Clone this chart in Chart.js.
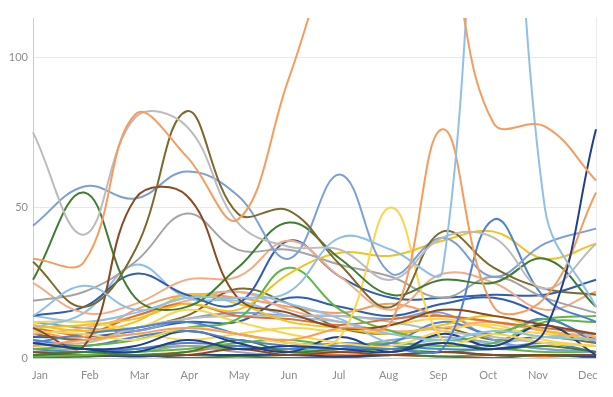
<!DOCTYPE html>
<html>
<head>
<meta charset="utf-8">
<script src="https://cdn.jsdelivr.net/npm/chart.js@4/dist/chart.umd.min.js"></script>
<style>
  html, body { margin: 0; padding: 0; background: #fff; }
  #chart { display: block; }
</style>
</head>
<body>
<canvas id="chart" width="613" height="397"></canvas>
<script>
/* Monthly counts, one line per item — many overlapping smooth lines. */

const MONTHS = ['Jan', 'Feb', 'Mar', 'Apr', 'May', 'Jun', 'Jul', 'Aug', 'Sep', 'Oct', 'Nov', 'Dec'];
const Y_TICKS = [0, 50, 100];

// the lines that stand out
const orangeBig   = [33, 32, 81, 67, 46, 93, 140, 160, 140, 78, 77, 59];
const grayLight   = [75, 41, 80, 77, 45, 37, 36, 26, 40, 40, 23, 38];
const grayMid     = [19, 22, 32, 48, 36, 36, 31, 27, 20, 27, 20, 15];
const olive       = [32, 17, 36, 82, 48, 49, 31, 17, 42, 30, 23, 21];
const brown       = [10, 4, 53, 54, 20, 15, 10, 11, 16, 14, 11, 8];
const darkGreen   = [26, 55, 20, 17, 30, 45, 33, 21, 26, 25, 33, 17];
const cornflower  = [44, 57, 53, 62, 54, 33, 61, 28, 40, 27, 38, 43];
const blueOct     = [5, 8, 10, 12, 8, 5, 4, 3, 3, 46, 20, 12];
const skyJump     = [14, 24, 16, 20, 20, 22, 40, 36, 29, 260, 50, 17];
const skyMar      = [10, 15, 31, 20, 19, 14, 12, 8, 6, 9, 7, 6];
const royal       = [14, 17, 28, 21, 18, 39, 27, 20, 20, 21, 21, 26];
const navyDec     = [5, 3, 2, 6, 3, 4, 3, 2, 5, 3, 9, 76];
const yellowAug   = [9, 8, 6, 10, 8, 5, 7, 50, 6, 8, 5, 4];
const goldRise    = [10, 11, 13, 18, 16, 28, 35, 34, 39, 42, 33, 38];
const orangeSep   = [4, 6, 8, 10, 8, 6, 10, 12, 76, 17, 20, 55];
const salmon      = [25, 15, 18, 26, 27, 39, 27, 16, 28, 25, 16, 22];
const greenJun    = [3, 4, 6, 10, 13, 30, 16, 9, 6, 8, 13, 14];

// the tangle near the floor
const yellowLow   = [12, 12, 10, 16, 12, 8, 5, 4, 9, 11, 6, 4];
const goldLow     = [11, 9, 12, 21, 18, 12, 10, 8, 11, 14, 9, 6];
const blueLow     = [6, 4, 7, 9, 6, 4, 3, 5, 12, 8, 13, 5];
const navyLow     = [5, 3, 4, 9, 5, 2, 7, 2, 8, 4, 11, 1];
const rustLow     = [10, 8, 14, 18, 14, 13, 11, 13, 14, 12, 10, 8];
const silverLow   = [6, 5, 10, 13, 14, 14, 14, 12, 9, 7, 5, 4];
const peachLow    = [8, 10, 14, 19, 22, 16, 12, 9, 10, 12, 9, 7];
const forestLow   = [1, 2, 1, 2, 6, 2, 3, 3, 5, 3, 4, 2];
const limeLow     = [0.5, 1, 2, 3, 5, 6, 4, 5, 4, 5, 12, 12];
const skyLow      = [14, 12, 15, 20, 22, 18, 13, 5, 6, 5, 7, 8];
const periLow     = [12, 10, 9, 13, 15, 14, 14, 13, 15, 6, 3, 2];
const brownLow    = [2, 1, 1, 1, 3, 1, 2, 1, 2, 1, 1, 1];
const oliveLow    = [8, 6, 10, 14, 23, 18, 10, 8, 10, 6, 7, 5];
const orangeLow   = [9, 7, 16, 21, 20, 17, 15, 18, 14, 12, 9, 7];
const yellowLow2  = [4, 5, 8, 6, 8, 10, 9, 11, 13, 10, 8, 6];
const blueLow2    = [3, 2, 3, 5, 4, 3, 5, 4, 3, 3, 5, 2];
const navyLow2    = [1, 1, 0.5, 1, 1, 1, 0.5, 1, 2, 1, 1, 0.5];
const forestLow2  = [0, 0.5, 1, 0, 0.5, 0, 0, 1, 0.5, 0, 1, 0];
const grayLow     = [2, 3, 2, 4, 2, 1, 3, 6, 7, 5, 3, 2];
const royalLow    = [7, 7, 9, 12, 12, 20, 17, 14, 18, 20, 14, 6];
const limeLow2    = [2, 2, 3, 4, 3, 3, 2, 3, 2, 3, 2, 2];
const rustLow2    = [1, 0.5, 1, 2, 4, 2, 1, 1, 0.5, 1, 0.5, 1];

const C = {
    orange: '#f69c5c', gray: '#bcbcbc', grayMid: '#a4a4a4', olive: '#7b6a2b', brown: '#8a4a20',
    darkGreen: '#3f7d33', cornflower: '#7c9fd9', blue: '#4f82cf', sky: '#8fc0ea', royal: '#2f5db0',
    navy: '#21408c', yellow: '#fbd54c', gold: '#f3c21f', salmon: '#f4ab86', green: '#5db746',
    rust: '#e2702b',
};

const SERIES = [
    [orangeBig, C.orange], [skyJump, C.sky], [navyDec, C.navy], [orangeSep, C.orange],
    [grayLight, C.gray], [olive, C.olive], [brown, C.brown], [cornflower, C.cornflower],
    [darkGreen, C.darkGreen], [yellowAug, C.yellow], [blueOct, C.blue], [goldRise, C.gold],
    [grayMid, C.grayMid], [salmon, C.salmon], [royal, C.royal], [skyMar, C.sky], [greenJun, C.green],
    [yellowLow, C.yellow], [goldLow, C.gold], [blueLow, C.blue], [navyLow, C.navy], [rustLow, C.rust],
    [silverLow, C.gray], [peachLow, C.salmon], [forestLow, C.darkGreen], [limeLow, C.green],
    [skyLow, C.sky], [periLow, C.cornflower], [brownLow, C.brown], [oliveLow, C.olive],
    [orangeLow, C.orange], [yellowLow2, C.yellow], [blueLow2, C.blue], [navyLow2, C.navy],
    [forestLow2, C.darkGreen], [grayLow, C.grayMid], [royalLow, C.royal], [limeLow2, C.green],
    [rustLow2, C.rust],
];

const TICK_FONT = { family: 'Lato, "Open Sans", sans-serif', size: 11 };
const TICK_COLOUR = '#8d8d8d';

new Chart(document.getElementById('chart'), {
    type: 'line',
    data: {
        labels: MONTHS,
        datasets: SERIES.map(([data, colour]) => ({
            data, borderColor: colour, backgroundColor: colour,
            borderWidth: 2, tension: 0.4, pointRadius: 0, fill: false,
        })),
    },
    options: {
        responsive: false, animation: false,
        layout: { padding: { top: 18, right: 17, left: 0, bottom: 0 } },
        plugins: { legend: { display: false }, tooltip: { enabled: false } },
        scales: {
            x: {
                offset: false,
                ticks: { display: false },
                grid: { drawTicks: false, color: (c) => (c.index === MONTHS.length - 1 ? '#ececec' : 'rgba(0,0,0,0)') },
                border: { display: false },
                afterFit: (s) => { s.height = 0; },
            },
            // labels sit slightly inside the first/last points in the original
            xl: {
                type: 'linear', position: 'bottom',
                min: -0.14, max: 11.165,
                ticks: {
                    stepSize: 1, includeBounds: false, autoSkip: false, maxRotation: 0,
                    padding: 11, color: TICK_COLOUR, font: TICK_FONT,
                    callback: (v) => MONTHS[v] ?? '',
                },
                grid: { display: false, drawTicks: false },
                border: { display: false },
                afterFit: (s) => { s.height = 39; },
            },
            y: {
                min: 0, max: 113,
                ticks: {
                    stepSize: 50, includeBounds: false, padding: 5,
                    color: TICK_COLOUR, font: TICK_FONT,
                    callback: (v) => (Y_TICKS.includes(v) ? v : ''),
                },
                grid: { drawTicks: false, color: (c) => (c.tick.value === 0 ? '#d0d0d0' : '#e8e8e8') },
                border: { color: '#cccccc' },
                afterFit: (s) => { s.width = 33; },
            },
        },
    },
});
</script>
</body>
</html>
